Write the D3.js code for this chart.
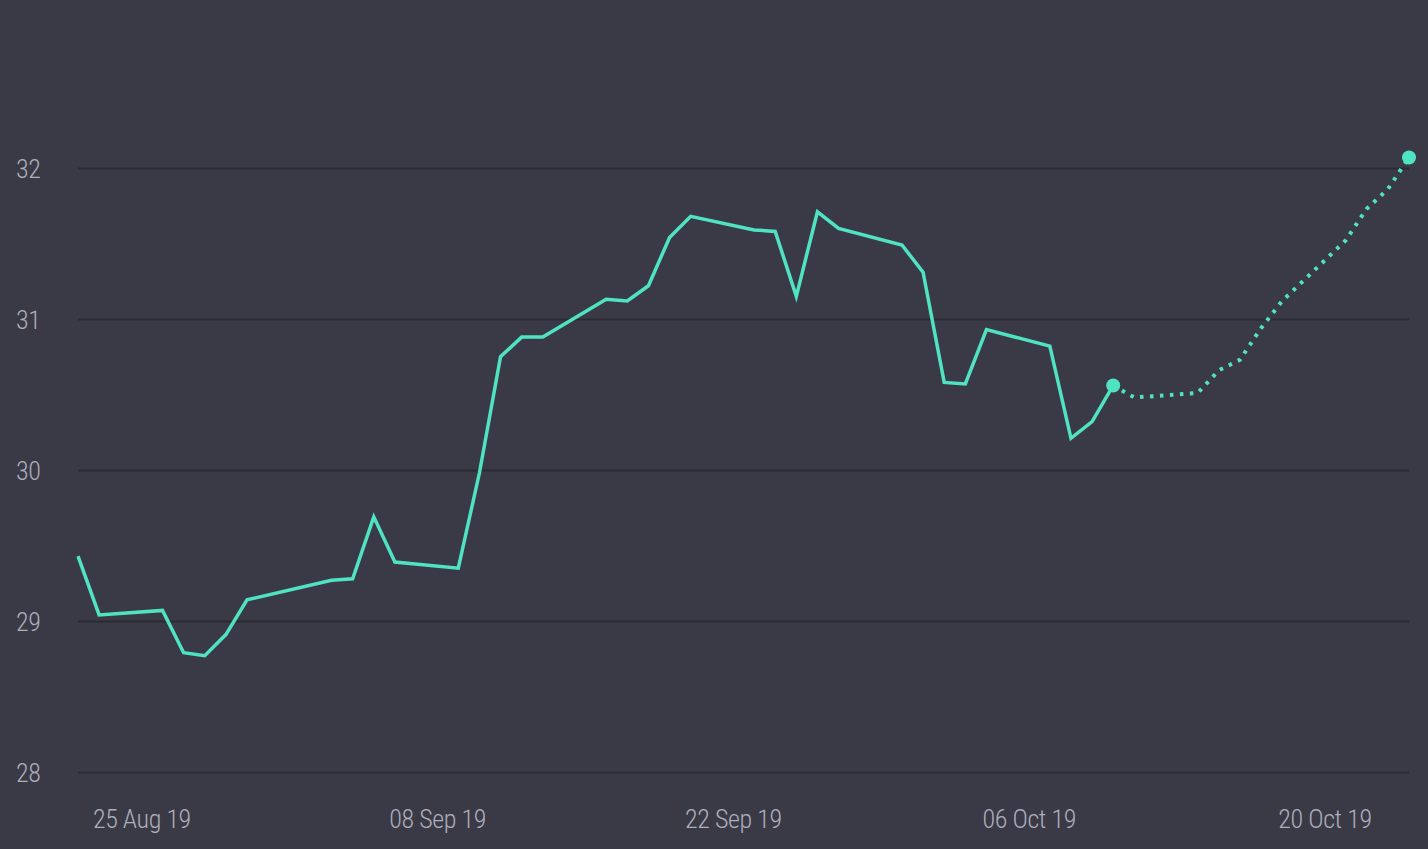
<!DOCTYPE html>
<html>
<head>
<meta charset="utf-8">
<script src="https://cdnjs.cloudflare.com/ajax/libs/d3/7.8.5/d3.min.js"></script>
<style>
  html, body { margin: 0; padding: 0; background: #3a3a46; }
  svg { display: block; }
  .tick text { font-family: Roboto, "DejaVu Sans", sans-serif; font-stretch: condensed; font-weight: 300; fill: #adadbc; letter-spacing: -0.4px; }
</style>
</head>
<body>
<svg class="chart"></svg>
<script>
// actual closes
var dates = ["2019-08-22", "2019-08-23", "2019-08-26", "2019-08-27", "2019-08-28", "2019-08-29", "2019-08-30",
  "2019-09-03", "2019-09-04", "2019-09-05", "2019-09-06", "2019-09-09", "2019-09-10", "2019-09-11", "2019-09-12",
  "2019-09-13", "2019-09-16", "2019-09-17", "2019-09-18", "2019-09-19", "2019-09-20", "2019-09-23", "2019-09-24",
  "2019-09-25", "2019-09-26", "2019-09-27", "2019-09-30", "2019-10-01", "2019-10-02", "2019-10-03", "2019-10-04",
  "2019-10-07", "2019-10-08", "2019-10-09", "2019-10-10"];
var values = [29.43, 29.04, 29.07, 28.79, 28.77, 28.91, 29.14,
  29.27, 29.28, 29.69, 29.39, 29.35, 29.98, 30.75, 30.88,
  30.88, 31.13, 31.12, 31.22, 31.54, 31.68, 31.59, 31.58,
  31.15, 31.71, 31.60, 31.49, 31.31, 30.58, 30.57, 30.93,
  30.82, 30.21, 30.32, 30.56];

// forecast (dotted)
var forecastDates = ["2019-10-10", "2019-10-11", "2019-10-14", "2019-10-15", "2019-10-16", "2019-10-17",
  "2019-10-18", "2019-10-21", "2019-10-22", "2019-10-23", "2019-10-24"];
var forecastValues = [30.56, 30.48, 30.51, 30.66, 30.73, 30.94, 31.12, 31.52, 31.73, 31.86, 32.07];

var yTicks = [28, 29, 30, 31, 32];
var xTicks = ["2019-08-25", "2019-09-08", "2019-09-22", "2019-10-06", "2019-10-20"];

var width = 1428,
    height = 849;

var parse = d3.timeParse("%Y-%m-%d");

var actual = dates.map(function(d, i) { return [parse(d), values[i]]; });
var forecast = forecastDates.map(function(d, i) { return [parse(d), forecastValues[i]]; });

var x = d3.scaleTime()
    .domain([parse(dates[0]), parse(forecastDates[forecastDates.length - 1])])
    .range([78, 1409]);

var y = d3.scaleLinear()
    .domain([28, 32])
    .range([772, 168]);

var chart = d3.select(".chart")
    .attr("width", width)
    .attr("height", height);

chart.append("rect")
  .attr("width", width)
  .attr("height", height)
  .attr("fill", "#3a3a46");

// grid + y labels
var y_axis = d3.axisLeft(y)
  .tickValues(yTicks)
  .tickSize(-(x.range()[1] - x.range()[0]))
  .tickFormat(d3.format("d"));

var gy = chart.append("g")
  .attr("transform", "translate(78,0)")
  .call(y_axis);
gy.select(".domain").remove();
gy.selectAll(".tick line").attr("stroke", "#2a2a33").attr("stroke-width", 2);
gy.selectAll(".tick text")
  .attr("text-anchor", "start")
  .attr("x", -62)
  .attr("dy", "0.36em")
  .style("font-size", "26px");

var x_axis = d3.axisBottom(x)
  .tickValues(xTicks.map(parse))
  .tickSize(0)
  .tickPadding(0)
  .tickFormat(d3.timeFormat("%d %b %y"));

var gx = chart.append("g")
  .attr("transform", "translate(0,819)")
  .call(x_axis);
gx.select(".domain").remove();
gx.selectAll(".tick text")
  .attr("dy", "0.36em")
  .style("font-size", "26px");

var line = d3.line()
  .x(function(d) { return x(d[0]); })
  .y(function(d) { return y(d[1]); });

chart.append("path")
  .datum(actual)
  .attr("fill", "none")
  .attr("stroke", "#50e3c2")
  .attr("stroke-width", 3.5)
  .attr("stroke-linejoin", "miter")
  .attr("d", line);

chart.append("path")
  .datum(forecast)
  .attr("fill", "none")
  .attr("stroke", "#50e3c2")
  .attr("stroke-width", 4)
  .attr("stroke-dasharray", "3.5,6.5")
  .attr("d", line);

chart.selectAll("circle")
  .data([actual[actual.length - 1], forecast[forecast.length - 1]])
  .enter().append("circle")
  .attr("cx", function(d) { return x(d[0]); })
  .attr("cy", function(d) { return y(d[1]); })
  .attr("r", 7)
  .attr("fill", "#50e3c2");
</script>
</body>
</html>
